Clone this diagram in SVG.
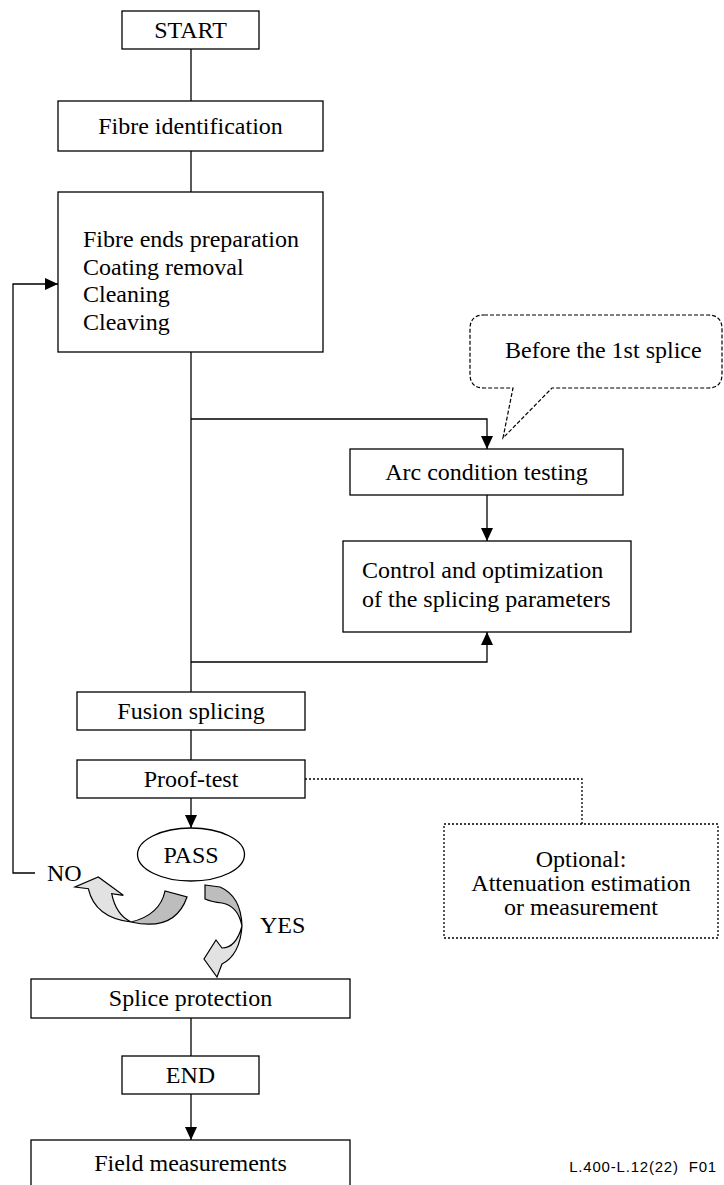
<svg xmlns="http://www.w3.org/2000/svg" width="724" height="1185" viewBox="0 0 724 1185">
<style>
.box{fill:#fff;stroke:#000;stroke-width:1.3}
.ln{fill:none;stroke:#000;stroke-width:1.3}
.dash{fill:none;stroke:#000;stroke-width:1.2;stroke-dasharray:4 2}
.dot{fill:none;stroke:#000;stroke-width:1.3;stroke-dasharray:2 2}
.t{font-family:"Liberation Serif","Times New Roman",serif;font-size:24px;fill:#000}
.c{text-anchor:middle}
.light{fill:#e2e2e2;stroke:#000;stroke-width:1.2}
.dark{fill:#bdbdbd;stroke:#000;stroke-width:1.2}
</style>
<defs>
<marker id="arr" markerUnits="userSpaceOnUse" markerWidth="13" markerHeight="12" refX="13" refY="6" orient="auto">
<path d="M0,0 L13,6 L0,12 Z" fill="#000"/>
</marker>
</defs>
<g id="connectors">
<path class="ln" d="M191,49 V101"/>
<path class="ln" d="M191,151 V192"/>
<path class="ln" d="M191,352 V692"/>
<path class="ln" d="M191,419 H487 V449" marker-end="url(#arr)"/>
<path class="ln" d="M487,495 V541" marker-end="url(#arr)"/>
<path class="ln" d="M191,662 H487 V632" marker-end="url(#arr)"/>
<path class="ln" d="M191,730 V760"/>
<path class="ln" d="M191,798 V828" marker-end="url(#arr)"/>
<path class="ln" d="M35,873 H13 V284 H58" marker-end="url(#arr)"/>
<path class="dot" d="M305,779 H582 V824"/>
<path class="ln" d="M191,1018 V1056"/>
<path class="ln" d="M191,1094 V1140" marker-end="url(#arr)"/>
</g>
<g id="start"><rect class="box" x="122" y="11" width="137" height="38"/><text class="t c" x="190.5" y="38">START</text></g>
<g id="fibre-id"><rect class="box" x="58" y="101" width="265" height="50"/><text class="t c" x="190.5" y="134">Fibre identification</text></g>
<g id="fibre-ends"><rect class="box" x="58" y="192" width="265" height="160"/>
<text class="t" x="83" y="247">Fibre ends preparation</text>
<text class="t" x="83" y="275">Coating removal</text>
<text class="t" x="83" y="302">Cleaning</text>
<text class="t" x="83" y="330">Cleaving</text></g>
<g id="callout"><path class="dash" d="M484,315 H708 Q722,315 722,329 V374 Q722,388 708,388 H552 L503,438 L513,388 H484 Q470,388 470,374 V329 Q470,315 484,315 Z"/>
<text class="t" x="505" y="358">Before the 1st splice</text></g>
<g id="arc"><rect class="box" x="350" y="449" width="273" height="46"/><text class="t c" x="486.5" y="480">Arc condition testing</text></g>
<g id="control"><rect class="box" x="343" y="541" width="288" height="91"/>
<text class="t" x="362" y="578">Control and optimization</text>
<text class="t" x="362" y="607">of the splicing parameters</text></g>
<g id="fusion"><rect class="box" x="77" y="692" width="228" height="38"/><text class="t c" x="191" y="719">Fusion splicing</text></g>
<g id="proof"><rect class="box" x="77" y="760" width="228" height="38"/><text class="t c" x="191" y="787">Proof-test</text></g>
<g id="pass"><ellipse class="box" cx="191" cy="854.5" rx="53.5" ry="26.5"/><text class="t c" x="191" y="863">PASS</text></g>
<g id="no-arrow">
<path class="dark" d="M131,922 Q175,932 187,897 L165,891 Q160,915 131,922 Z"/>
<path class="light" d="M131,922 Q95,918 88.3,888.7 L75,887 L98.3,877 L123.3,895.3 L111.7,893.7 Q116,915 131,922 Z"/>
<text class="t" x="47" y="881">NO</text>
</g>
<g id="yes-arrow">
<path class="dark" d="M205,885 L220,887 Q241,896 242,926 Q238,906 222,903 Q212,902 205,899 Z"/>
<path class="light" d="M242,926 Q240,955 222,964 L217,977 L204,959 L216,940 L222,948 Q236,948 242,926 Z"/>
<text class="t" x="260" y="933">YES</text>
</g>
<g id="optional"><rect class="dot" x="444" y="824" width="274" height="114"/>
<text class="t c" x="581" y="867">Optional:</text>
<text class="t c" x="581" y="891">Attenuation estimation</text>
<text class="t c" x="581" y="915">or measurement</text></g>
<g id="splice-protection"><rect class="box" x="31" y="979" width="319" height="39"/><text class="t c" x="190.5" y="1006">Splice protection</text></g>
<g id="end"><rect class="box" x="122" y="1056" width="137" height="38"/><text class="t c" x="190.5" y="1083">END</text></g>
<g id="field"><rect class="box" x="31" y="1140" width="319" height="50"/><text class="t c" x="190.5" y="1171">Field measurements</text></g>
<text x="717" y="1172" text-anchor="end" style="font-family:'Liberation Sans',Arial,sans-serif;font-size:15px;letter-spacing:0.8px;white-space:pre;fill:#000">L.400-L.12(22)  F01</text>
</svg>
